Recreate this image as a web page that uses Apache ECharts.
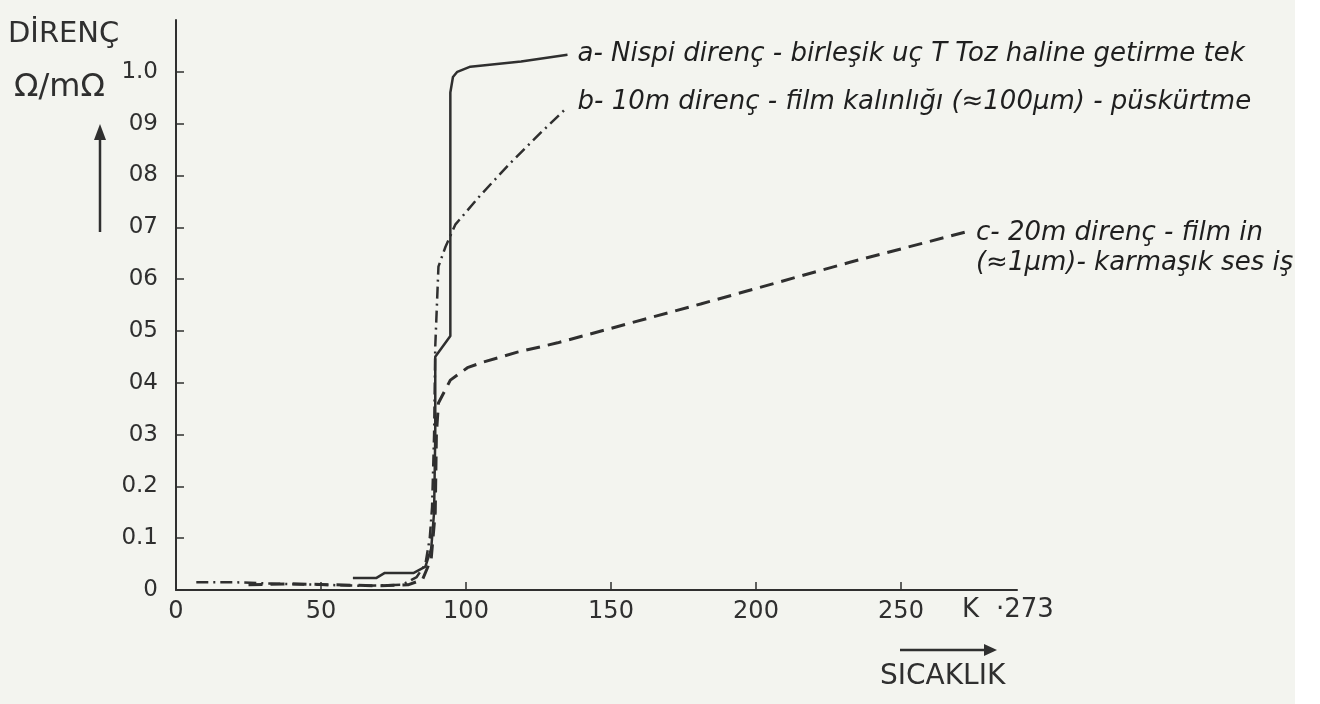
<!DOCTYPE html>
<html>
<head>
<meta charset="utf-8">
<script src="https://cdn.jsdelivr.net/npm/echarts@6/dist/echarts.min.js"></script>
<style>
html,body{margin:0;padding:0;background:#f3f4ef;}
#chart{width:1320px;height:704px;}
</style>
</head>
<body>
<div id="chart"></div>
<script>
// ---- data ----
const xTicks = [0, 50, 100, 150, 200, 250];
const yTicks = [0, 0.1, 0.2, 0.3, 0.4, 0.5, 0.6, 0.7, 0.8, 0.9, 1.0];
const yTickLabels = ['0', '0.1', '0.2', '03', '04', '05', '06', '07', '08', '09', '1.0'];

// a - solid
const aTemp = [61, 69, 72, 82, 86, 88, 89, 89.4, 89.4, 94.6, 94.6, 95.5, 97, 101.5, 119, 135];
const aRes  = [0.023, 0.023, 0.033, 0.033, 0.045, 0.08, 0.15, 0.3, 0.45, 0.49, 0.96, 0.99, 1.0, 1.01, 1.02, 1.033];
// b - dash-dot
const bTemp = [7, 20, 35, 50, 65, 78, 83, 86, 87.5, 88.3, 89, 89.4, 90.5, 92.9, 96.3, 105, 115.3, 125.7, 135];
const bRes  = [0.015, 0.015, 0.012, 0.01, 0.008, 0.01, 0.025, 0.05, 0.1, 0.16, 0.3, 0.47, 0.624, 0.662, 0.705, 0.762, 0.824, 0.882, 0.932];
// c - dashed
const cTemp = [25, 40, 55, 70, 80, 85, 88, 89.4, 89.8, 90.5, 94.6, 100.5, 106, 117.7, 131.6, 180.9, 232.7, 272.4];
const cRes  = [0.01, 0.012, 0.01, 0.008, 0.01, 0.02, 0.06, 0.15, 0.3, 0.361, 0.405, 0.429, 0.44, 0.459, 0.477, 0.552, 0.633, 0.691];

const labelA = 'a- Nispi direnç - birleşik uç T Toz haline getirme tek';
const labelB = 'b- 10m direnç - film kalınlığı (≈100μm) - püskürtme';
const labelC1 = 'c- 20m direnç - film in';
const labelC2 = '(≈1μm)- karmaşık ses iş';

const ink = '#2f2f2f';
const pair = (xs, ys) => xs.map((x, i) => [x, ys[i]]);
const font = '"DejaVu Sans", sans-serif';

const chart = echarts.init(document.getElementById('chart'));
chart.setOption({
  backgroundColor: '#f3f4ef',
  animation: false,
  grid: {left: 176, right: 303, top: 20, bottom: 114},
  xAxis: {
    type: 'value', min: 0, max: 290, interval: 50,
    axisLine: {lineStyle: {color: ink, width: 2}},
    axisTick: {inside: true, length: 8, lineStyle: {color: ink, width: 1.5}, customValues: xTicks},
    axisLabel: {color: ink, fontSize: 24, fontFamily: font, margin: 10, customValues: xTicks},
    splitLine: {show: false}
  },
  yAxis: {
    type: 'value', min: 0, max: 1.1, interval: 0.1,
    axisLine: {show: true, lineStyle: {color: ink, width: 2}},
    axisTick: {show: true, inside: true, length: 8, lineStyle: {color: ink, width: 1.5}, customValues: yTicks},
    axisLabel: {color: ink, fontSize: 23, fontFamily: font, margin: 18, customValues: yTicks,
      formatter: v => yTickLabels[Math.round(v * 10)]},
    splitLine: {show: false}
  },
  series: [
    {
      type: 'line', data: pair(aTemp, aRes), showSymbol: false, symbol: 'none',
      lineStyle: {color: ink, width: 2.5, type: 'solid'},
      endLabel: {show: true, formatter: labelA, color: '#1f1f1f', fontSize: 26, fontStyle: 'italic', fontFamily: font, distance: 10}
    },
    {
      type: 'line', data: pair(bTemp, bRes), showSymbol: false, symbol: 'none',
      lineStyle: {color: ink, width: 2.5, type: [12, 5, 2, 5]},
      endLabel: {show: true, formatter: labelB, color: '#1f1f1f', fontSize: 26, fontStyle: 'italic', fontFamily: font, distance: 10, offset: [0, -5]}
    },
    {
      type: 'line', data: pair(cTemp, cRes), showSymbol: false, symbol: 'none',
      lineStyle: {color: ink, width: 3, type: [14, 8]},
      endLabel: {show: true, formatter: labelC1 + '\n' + labelC2, color: '#1f1f1f', fontSize: 26, lineHeight: 30,
        fontStyle: 'italic', fontFamily: font, distance: 10, offset: [0, 16]}
    }
  ],
  graphic: [
    {type: 'text', left: 8, top: 20, style: {text: 'DİRENÇ', fontSize: 29, fontFamily: font, fill: ink}},
    {type: 'text', left: 14, top: 72, style: {text: 'Ω/mΩ', fontSize: 32, fontFamily: font, fill: ink}},
    {type: 'line', shape: {x1: 100, y1: 232, x2: 100, y2: 132}, style: {stroke: ink, lineWidth: 2.5}},
    {type: 'polygon', shape: {points: [[94, 140], [106, 140], [100, 124]]}, style: {fill: ink}},
    {type: 'text', left: 962, top: 597, style: {text: 'K', fontSize: 26, fontFamily: font, fill: ink}},
    {type: 'text', left: 996, top: 597, style: {text: '·273', fontSize: 26, fontFamily: font, fill: ink}},
    {type: 'line', shape: {x1: 900, y1: 650, x2: 986, y2: 650}, style: {stroke: ink, lineWidth: 2.5}},
    {type: 'polygon', shape: {points: [[984, 644], [984, 656], [997, 650]]}, style: {fill: ink}},
    {type: 'text', left: 880, top: 663, style: {text: 'SICAKLIK', fontSize: 28, fontFamily: font, fill: ink}},
    {type: 'rect', z: 100, shape: {x: 1295, y: 0, width: 25, height: 704}, style: {fill: '#ffffff'}}
  ]
});
</script>
</body>
</html>
